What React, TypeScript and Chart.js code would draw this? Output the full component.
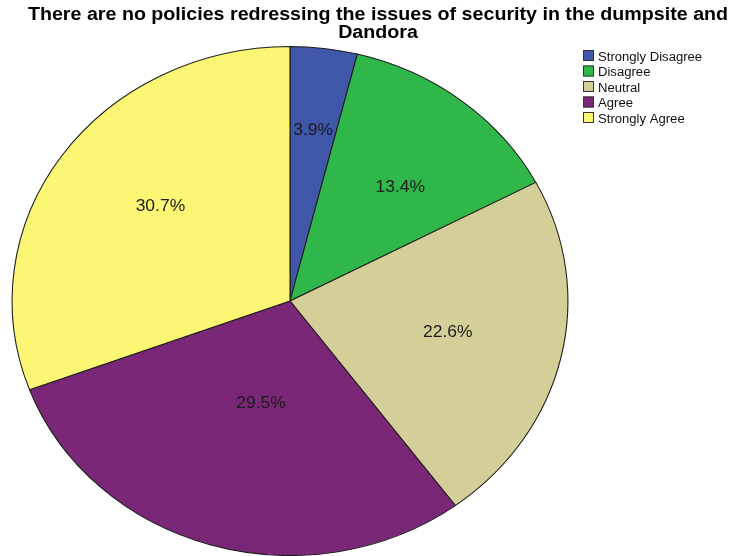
import React, { useEffect, useRef } from "react";
import { Chart, registerables } from "chart.js";

Chart.register(...registerables);

const categories = ["Strongly Disagree", "Disagree", "Neutral", "Agree", "Strongly Agree"];
const percentages = [3.9, 13.4, 22.6, 29.5, 30.7];
const sliceColors = ["#3F57A9", "#2FB74A", "#D4CE98", "#7B2777", "#FBF674"];
const titleLines = [
  "There are no policies redressing the issues of security in the dumpsite and",
  "Dandora",
];
const labelRadius = [0.68, 0.6, 0.58, 0.41, 0.6];
const labelAngleShift = [0, 3.3, -1, -1.8, 4.2];

const SX = 1.092;
const FONT = "'Liberation Sans', Arial, sans-serif";

function stretchedText(ctx: CanvasRenderingContext2D, text: string, x: number, y: number, align: CanvasTextAlign) {
  ctx.save();
  ctx.translate(x, y);
  ctx.scale(SX, 1);
  ctx.textAlign = align;
  ctx.fillText(text, 0, 0);
  ctx.restore();
}

const ellipsePlugin = {
  id: "ellipse",
  beforeDatasetsDraw(chart: any) {
    const { ctx, chartArea } = chart;
    const cx = (chartArea.left + chartArea.right) / 2;
    const cy = (chartArea.top + chartArea.bottom) / 2;
    ctx.save();
    ctx.translate(cx, cy);
    ctx.scale(SX, 1);
    ctx.translate(-cx, -cy);
  },
  afterDatasetsDraw(chart: any) {
    chart.ctx.restore();
  },
  afterDraw(chart: any) {
    const { ctx, chartArea } = chart;
    const cx = (chartArea.left + chartArea.right) / 2;
    const cy = (chartArea.top + chartArea.bottom) / 2;
    const meta = chart.getDatasetMeta(0);
    ctx.save();
    ctx.textBaseline = "middle";
    ctx.fillStyle = "#1c1c1c";
    ctx.font = `16px ${FONT}`;
    meta.data.forEach((arc: any, i: number) => {
      const p = arc.getProps(["startAngle", "endAngle", "outerRadius"], true);
      const mid = (p.startAngle + p.endAngle) / 2 + (labelAngleShift[i] * Math.PI) / 180;
      const r = p.outerRadius * labelRadius[i];
      const x = cx + Math.cos(mid) * r * SX;
      const y = cy + Math.sin(mid) * r + 1.5;
      stretchedText(ctx, percentages[i].toFixed(1) + "%", x, y, "center");
    });
    ctx.restore();

    // title
    ctx.save();
    ctx.fillStyle = "#000";
    ctx.textBaseline = "alphabetic";
    ctx.font = `bold 18px ${FONT}`;
    stretchedText(ctx, titleLines[0], 378, 20, "center");
    stretchedText(ctx, titleLines[1], 378, 38, "center");
    ctx.restore();

    // legend
    ctx.save();
    ctx.font = `12px ${FONT}`;
    ctx.textBaseline = "alphabetic";
    categories.forEach((c, i) => {
      const top = 50 + i * 15.5;
      ctx.fillStyle = sliceColors[i];
      ctx.fillRect(583, top, 11, 11);
      ctx.strokeStyle = "#333";
      ctx.lineWidth = 1;
      ctx.strokeRect(583.5, top + 0.5, 10, 10);
      ctx.fillStyle = "#111";
      stretchedText(ctx, c, 598, top + 10.5, "left");
    });
    ctx.restore();
  },
};

export default function App() {
  const ref = useRef<HTMLCanvasElement>(null);
  useEffect(() => {
    document.body.style.margin = "0";
    const chart = new Chart(ref.current!, {
      type: "pie",
      data: {
        labels: categories,
        datasets: [
          {
            data: percentages,
            backgroundColor: sliceColors,
            borderColor: "#1e1e1e",
            borderWidth: 1,
          },
        ],
      },
      options: {
        responsive: false,
        animation: false,
        events: [],
        layout: { padding: { top: 46, bottom: 0, left: 35, right: 195 } },
        plugins: {
          legend: { display: false },
          title: { display: false },
          tooltip: { enabled: false },
        },
      },
      plugins: [ellipsePlugin],
    });
    return () => chart.destroy();
  }, []);
  return (
    <div style={{ width: 740, height: 556, background: "#fff" }}>
      <canvas ref={ref} width={740} height={556} style={{ display: "block" }} />
    </div>
  );
}
